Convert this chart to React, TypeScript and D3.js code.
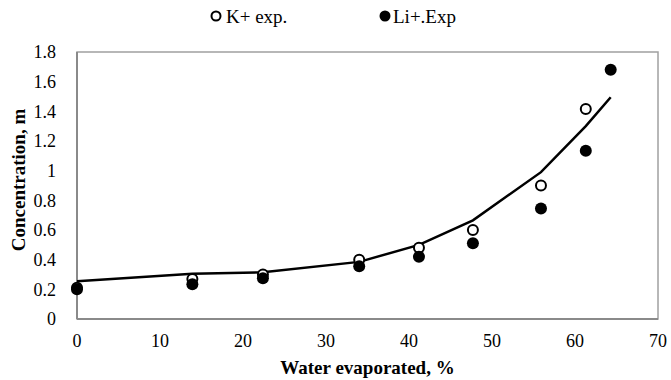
import React from "react";
import * as d3 from "d3";

// Water evaporated, %
const evaporated = [0, 13.9, 22.4, 34.0, 41.2, 47.7, 55.9, 61.3, 64.3];
// K+ experimental concentrations (m)
const kExp = [0.21, 0.27, 0.3, 0.4, 0.48, 0.6, 0.9, 1.415];
// Li+ experimental concentrations (m)
const liExp = [0.2, 0.235, 0.275, 0.355, 0.42, 0.51, 0.745, 1.135, 1.68];
// Model curve
const modelConc = [0.255, 0.305, 0.315, 0.385, 0.5, 0.665, 0.99, 1.3, 1.495];

const xTicks = [0, 10, 20, 30, 40, 50, 60, 70];
const yTicks = [0, 0.2, 0.4, 0.6, 0.8, 1, 1.2, 1.4, 1.6, 1.8];

const W = 671;
const H = 380;
const margin = { left: 77, right: 13, top: 52, bottom: 61 };
const FONT = "Liberation Serif, Times New Roman, serif";
const txt: React.CSSProperties = { fontFamily: FONT };

export default function App() {
  const x = d3.scaleLinear().domain([0, 70]).range([margin.left, W - margin.right]);
  const y = d3.scaleLinear().domain([0, 1.8]).range([H - margin.bottom, margin.top]);

  const linePath = d3
    .line<number>()
    .x((_, i) => x(evaporated[i]))
    .y((d) => y(d))(modelConc) as string;

  const r = 6;

  return (
    <svg
      width={W}
      height={H}
      style={{ position: "absolute", left: 0, top: 0, background: "#fff" }}
    >
      {/* plot frame */}
      <rect
        x={x(0)}
        y={y(1.8)}
        width={x(70) - x(0)}
        height={y(0) - y(1.8)}
        fill="none"
        stroke="#a0a0a0"
        strokeWidth={1.5}
      />
      {/* axis lines */}
      <line x1={x(0)} x2={x(0)} y1={y(0)} y2={y(1.8)} stroke="#8a8a8a" strokeWidth={2} />
      <line x1={x(0)} x2={x(70)} y1={y(0)} y2={y(0)} stroke="#8a8a8a" strokeWidth={2} />

      {/* y tick labels */}
      {yTicks.map((t) => (
        <text key={t} x={x(0) - 21} y={y(t)} dy="0.35em" textAnchor="end" fontSize={18} fill="#000" style={txt}>
          {d3.format("~g")(t)}
        </text>
      ))}
      {/* x tick labels */}
      {xTicks.map((t) => (
        <text key={t} x={x(t)} y={y(0) + 28} textAnchor="middle" fontSize={18} fill="#000" style={txt}>
          {t}
        </text>
      ))}

      {/* axis titles */}
      <text
        x={(x(0) + x(70)) / 2}
        y={H - 6}
        textAnchor="middle"
        fontSize={19}
        fontWeight="bold"
        fill="#000"
        style={txt}
      >
        Water evaporated, %
      </text>
      <text
        transform={`translate(${25},${180}) rotate(-90)`}
        textAnchor="middle"
        fontSize={19}
        fontWeight="bold"
        fill="#000"
        style={txt}
      >
        Concentration, m
      </text>

      {/* model line */}
      <path d={linePath} fill="none" stroke="#000" strokeWidth={2.5} />

      {/* K+ open markers */}
      {kExp.map((v, i) => (
        <circle
          key={"k" + i}
          cx={x(evaporated[i])}
          cy={y(v)}
          r={r - 1}
          fill="#fff"
          stroke="#000"
          strokeWidth={2}
        />
      ))}
      {/* Li+ filled markers */}
      {liExp.map((v, i) => (
        <circle key={"li" + i} cx={x(evaporated[i])} cy={y(v)} r={r} fill="#000" />
      ))}

      {/* legend */}
      <circle cx={216} cy={16} r={4.5} fill="#fff" stroke="#000" strokeWidth={2} />
      <text x={226} y={16} dy="0.35em" fontSize={19} fill="#000" style={txt}>
        K+ exp.
      </text>
      <circle cx={385} cy={16} r={5.5} fill="#000" />
      <text x={393} y={16} dy="0.35em" fontSize={19} fill="#000" style={txt}>
        Li+.Exp
      </text>
    </svg>
  );
}
